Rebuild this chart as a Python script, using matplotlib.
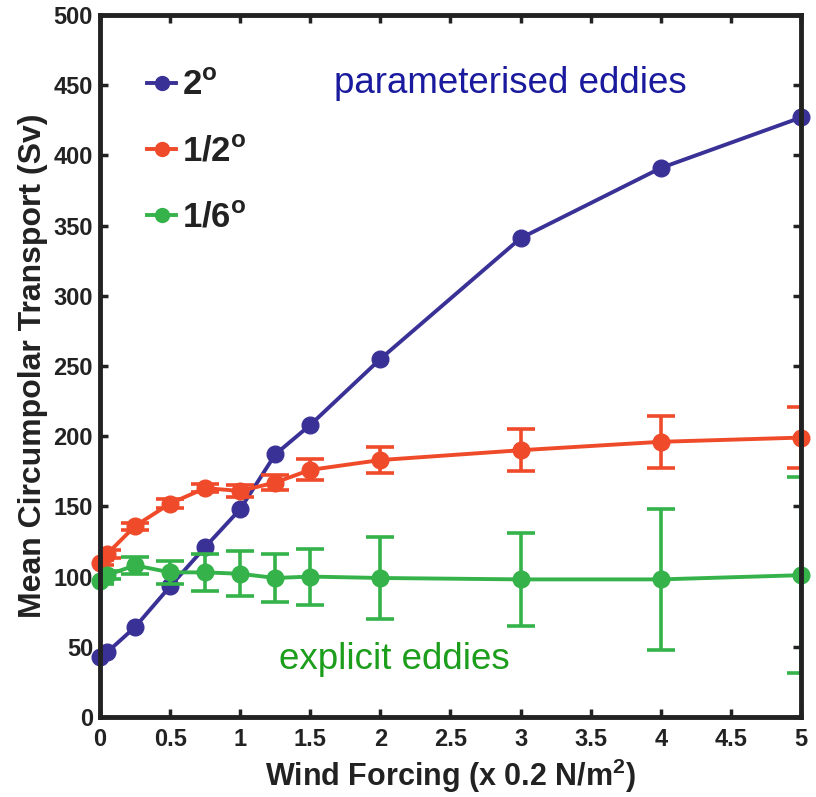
import matplotlib
matplotlib.use("Agg")
import matplotlib.pyplot as plt
from matplotlib.lines import Line2D

plt.rcParams['font.family'] = ['Liberation Sans', 'DejaVu Sans']
plt.rcParams['mathtext.fontset'] = 'custom'
plt.rcParams['mathtext.rm'] = 'Liberation Sans:bold'
plt.rcParams['mathtext.bf'] = 'Liberation Sans:bold'

wind = [0, 0.05, 0.25, 0.5, 0.75, 1, 1.25, 1.5, 2, 3, 4, 5]
t_2deg = [43, 46, 64, 93, 121, 148, 187, 208, 255, 341, 391, 427]
t_half = [110, 116, 136, 152, 163, 161, 167, 176, 183, 190, 196, 199]
e_half = [2, 3, 2.5, 3, 3, 4.5, 5, 7.5, 9.5, 15, 18.5, 21.5]
t_sixth = [97, 101, 108, 103, 103, 102, 99, 100, 99, 98, 98, 101]
e_sixth = [2, 3, 6, 8, 13, 16, 17, 20, 29, 33, 50, 70]
labels = ['2$^{\\mathregular{o}}$', '1/2$^{\\mathregular{o}}$', '1/6$^{\\mathregular{o}}$']
xticks = [0, 0.5, 1, 1.5, 2, 2.5, 3, 3.5, 4, 4.5, 5]
xtick_labels = ['0', '0.5', '1', '1.5', '2', '2.5', '3', '3.5', '4', '4.5', '5']
yticks = list(range(0, 501, 50))

c_blue = '#3a3196'
c_red = '#ef4a2a'
c_green = '#35b34a'
dark = '#222222'

fig = plt.figure(figsize=(8.16, 7.97), dpi=100)
ax = fig.add_axes([0.1225, 0.1004, 0.8591, 0.8808])

lw = 2.8
ms = 12
# lines and error bars (clipped to the axes box)
ax.plot(wind, t_2deg, '-', color=c_blue, lw=lw, zorder=3)
ax.errorbar(wind, t_half, yerr=e_half, fmt='-', color=c_red, lw=lw, elinewidth=2.6,
            capsize=10, capthick=2.6, zorder=4)
ax.errorbar(wind, t_sixth, yerr=e_sixth, fmt='-', color=c_green, lw=lw, elinewidth=2.6,
            capsize=10, capthick=2.6, zorder=5)
# markers (not clipped)
ax.plot(wind, t_2deg, 'o', color=c_blue, ms=ms, zorder=3.5, clip_on=False)
ax.plot(wind, t_half, 'o', color=c_red, ms=ms, zorder=4.5, clip_on=False)
ax.plot(wind, t_sixth, 'o', color=c_green, ms=ms, zorder=5.5, clip_on=False)

ax.set_xlim(0, 5)
ax.set_ylim(0, 500)
ax.set_xticks(xticks)
ax.set_xticklabels(xtick_labels)
ax.set_yticks(yticks)
for s in ax.spines.values():
    s.set_linewidth(3.5)
    s.set_color(dark)
    s.set_zorder(6)
ax.tick_params(direction='in', length=6, width=2.5, top=True, right=True,
               labelsize=17, color=dark)
ax.tick_params(axis='x', pad=8)
ax.tick_params(axis='y', pad=5)
for lab in ax.get_xticklabels() + ax.get_yticklabels():
    lab.set_fontweight('bold')
    lab.set_color(dark)

ax.set_xlabel('Wind Forcing (x 0.2 N/m$^{\\mathregular{2}}$)', fontsize=22, fontweight='bold',
              color=dark, labelpad=4)
ax.set_ylabel('Mean Circumpolar Transport (Sv)', fontsize=23, fontweight='bold',
              color=dark, labelpad=4)

ax.text(2.93, 451, 'parameterised eddies', color='#1a1a9e', fontsize=26.5, ha='center', va='center')
ax.text(2.10, 41, 'explicit eddies', color='#1c9e1c', fontsize=26.5, ha='center', va='center')

handles = [Line2D([], [], color=c, lw=lw, marker='o', ms=10) for c in (c_blue, c_red, c_green)]
leg = ax.legend(handles, labels, loc='upper left', bbox_to_anchor=(0.067, 0.923), frameon=False,
                fontsize=25, handlelength=0.85, handletextpad=0.15, labelspacing=0.95,
                borderaxespad=0, borderpad=0)
for t in leg.get_texts():
    t.set_fontweight('bold')
    t.set_color(dark)

fig.savefig('out.png', dpi=100)
